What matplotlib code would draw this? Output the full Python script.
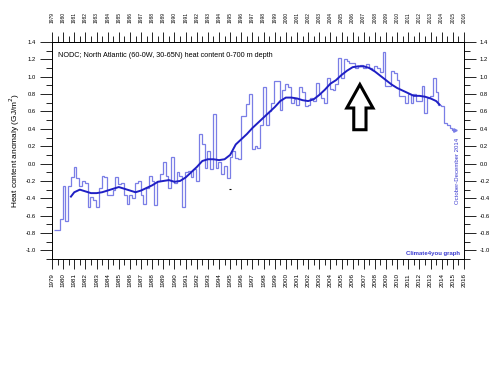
import numpy as np
import matplotlib.pyplot as plt
from matplotlib.patches import FancyArrow
from matplotlib.ticker import MultipleLocator, FixedLocator

plt.rcParams['font.family'] = ['Liberation Sans', 'DejaVu Sans']

# quarterly heat content anomaly (GJ/m2), 1979 Q1 .. 2014 Q4
q_1979_1988 = [
    -0.77, -0.77, -0.64, -0.26,
    -0.66, -0.26, -0.15, -0.04,
    -0.17, -0.26, -0.20, -0.22,
    -0.50, -0.39, -0.42, -0.50,
    -0.28, -0.14, -0.16, -0.36,
    -0.36, -0.30, -0.16, -0.24,
    -0.22, -0.36, -0.47, -0.36,
    -0.40, -0.22, -0.20, -0.36,
    -0.47, -0.28, -0.14, -0.20,
    -0.48, -0.20, -0.12, 0.02,
]
q_1989_1998 = [
    -0.14, -0.28, 0.08, -0.22,
    -0.10, -0.14, -0.50, -0.10,
    -0.08, -0.16, -0.06, -0.20,
    0.34, 0.22, -0.05, 0.15,
    -0.06, 0.57, -0.05, 0.02,
    -0.12, -0.03, -0.17, 0.08,
    0.14, 0.07, 0.05, 0.55,
    0.55, 0.69, 0.80, 0.17,
    0.20, 0.18, 0.44, 0.88,
    0.44, 0.60, 0.70, 0.95,
]
q_1999_2008 = [
    0.95, 0.62, 0.85, 0.92,
    0.88, 0.70, 0.74, 0.68,
    0.88, 0.82, 0.66, 0.67,
    0.75, 0.72, 0.93, 0.80,
    0.76, 0.70, 0.98, 0.86,
    0.85, 0.92, 1.22, 0.98,
    1.20, 1.18, 1.16, 1.16,
    1.10, 1.12, 1.14, 1.10,
    1.15, 1.10, 1.08, 1.12,
    1.10, 1.05, 1.28, 0.89,
]
q_2009_2014 = [
    0.89, 1.07, 1.04, 0.96,
    0.78, 0.78, 0.70, 0.80,
    0.70, 0.80, 0.72, 0.72,
    0.89, 0.58, 0.75, 0.78,
    0.99, 0.83, 0.68, 0.66,
    0.47, 0.44, 0.41, 0.39,
]
quarterly = q_1979_1988 + q_1989_1998 + q_1999_2008 + q_2009_2014
edges = 1979.2 + 0.25 * np.arange(len(quarterly) + 1)

# running mean
mean_years = [1980.7, 1981.0, 1981.5, 1982.0, 1982.5, 1983.0, 1983.5, 1984.0, 1984.5,
              1985.0, 1985.5, 1986.0, 1986.5, 1987.0, 1987.5, 1988.0, 1988.5, 1989.0,
              1989.5, 1990.0, 1990.5, 1991.0, 1991.5, 1992.0, 1992.5, 1993.0, 1993.5,
              1994.0, 1994.5, 1995.0, 1995.5, 1996.0, 1996.5, 1997.0, 1997.5, 1998.0,
              1998.5, 1999.0, 1999.5, 2000.0, 2000.5, 2001.0, 2001.5, 2002.0, 2002.5,
              2003.0, 2003.5, 2004.0, 2004.5, 2005.0, 2005.5, 2006.0, 2006.5, 2007.0,
              2007.5, 2008.0, 2008.5, 2009.0, 2009.5, 2010.0, 2010.5, 2011.0, 2011.5,
              2012.0, 2012.5, 2013.0, 2013.5, 2013.8]
mean_vals = [-0.38, -0.33, -0.30, -0.32, -0.34, -0.34, -0.33, -0.31, -0.29,
             -0.27, -0.29, -0.31, -0.33, -0.31, -0.28, -0.25, -0.21, -0.20,
             -0.19, -0.21, -0.20, -0.16, -0.10, -0.04, 0.03, 0.05, 0.05,
             0.04, 0.05, 0.10, 0.22, 0.28, 0.34, 0.41, 0.47, 0.53,
             0.59, 0.65, 0.72, 0.76, 0.76, 0.75, 0.73, 0.72, 0.74,
             0.79, 0.85, 0.92, 0.96, 1.02, 1.07, 1.11, 1.12, 1.12,
             1.10, 1.06, 1.01, 0.96, 0.91, 0.87, 0.84, 0.81, 0.78,
             0.78, 0.77, 0.75, 0.72, 0.68]

year_ticks = list(range(1979, 2017))
y_ticks = [-1.0, -0.8, -0.6, -0.4, -0.2, 0.0, 0.2, 0.4, 0.6, 0.8, 1.0, 1.2, 1.4]
y_labels = ['-1.0', '-0.8', '-0.6', '-0.4', '-0.2', '0.0', '0.2', '0.4', '0.6',
            '0.8', '1.0', '1.2', '1.4']

thin_col = '#7a7ee6'
thick_col = '#1f1fc4'
text_col = '#3a3ad0'

fig = plt.figure(figsize=(5, 3.75), dpi=100)
ax = fig.add_axes([0.104, 0.309, 0.824, 0.579])

ax.stairs(quarterly, edges, color=thin_col, lw=0.9, baseline=None)
ax.plot(edges[-1], quarterly[-1], marker='>', ms=2.5, color=thin_col)
ax.plot(mean_years, mean_vals, color=thick_col, lw=1.4)

ax.set_xlim(1979, 2016)
ax.set_ylim(-1.1, 1.4)

# bottom year axis
ax.set_xticks(year_ticks)
ax.set_xticklabels([str(y) for y in year_ticks])
ax.xaxis.set_minor_locator(MultipleLocator(0.5))
ax.tick_params(axis='x', which='both', direction='out', labelsize=4.5,
               labelrotation=90, width=0.6)
ax.tick_params(axis='x', which='major', length=7, pad=3)
ax.tick_params(axis='x', which='minor', length=4)

# top year axis
top = ax.secondary_xaxis('top')
top.set_xticks(year_ticks)
top.set_xticklabels([str(y) for y in year_ticks])
top.xaxis.set_minor_locator(MultipleLocator(0.5))
top.tick_params(axis='x', which='both', direction='out', labelsize=3.5,
                labelrotation=90, width=0.6)
top.tick_params(axis='x', which='major', length=7, pad=7)
top.tick_params(axis='x', which='minor', length=4)
top.spines['top'].set_linewidth(0.7)

ax.yaxis.set_major_locator(FixedLocator(y_ticks))
ax.set_yticklabels(y_labels)
ax.yaxis.set_minor_locator(MultipleLocator(0.1))
ax.tick_params(axis='y', which='both', right=True, labelright=True, direction='out',
               labelsize=4.2, width=0.6)
ax.tick_params(axis='y', which='major', length=8.5, pad=3)
ax.tick_params(axis='y', which='minor', length=4)
for sp in ax.spines.values():
    sp.set_linewidth(0.7)

ax.set_ylabel('Heat content anomaly (GJ/m$^2$)', fontsize=6, labelpad=3)

ax.text(1979.5, 1.25, 'NODC; North Atlantic (60-0W, 30-65N) heat content 0-700 m depth',
        fontsize=5.2, va='center', ha='left')
ax.text(2015.45, 0.30, 'October-December 2014', fontsize=4.3, color=text_col,
        rotation=90, ha='center', va='top')
ax.text(2015.6, -1.03, 'Climate4you graph', fontsize=4.3, color=text_col,
        ha='right', va='center', fontweight='bold')

# tiny stray mark in the original
ax.plot(1995.0, -0.29, marker='_', ms=2, color='black', mew=0.8)

arrow = FancyArrow(2006.65, 0.39, 0, 0.52, width=1.1, head_width=2.35,
                   head_length=0.27, length_includes_head=True,
                   fill=False, ec='black', lw=2.2, joinstyle='miter')
ax.add_patch(arrow)

fig.savefig('out.png', dpi=100)
